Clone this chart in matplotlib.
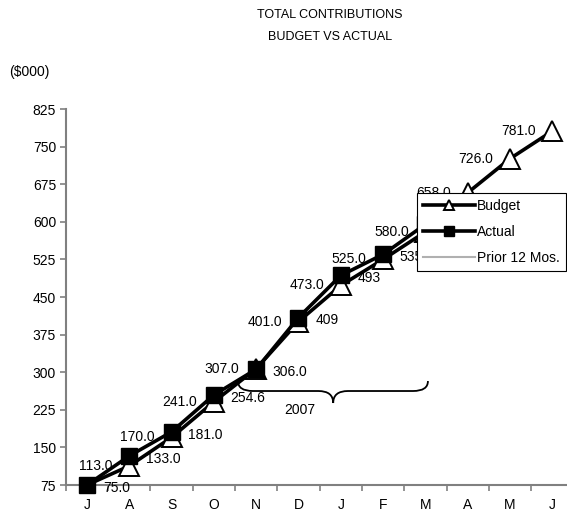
import numpy as np
import matplotlib.pyplot as plt
from matplotlib.path import Path
from matplotlib.patches import PathPatch

plt.rcParams['font.family'] = ['Liberation Sans', 'DejaVu Sans']

months = ['J', 'A', 'S', 'O', 'N', 'D', 'J', 'F', 'M', 'A', 'M', 'J']
budget = [75.0, 113.0, 170.0, 241.0, 307.0, 401.0, 473.0, 525.0, 580.0, 658.0, 726.0, 781.0]
budget_labels = ['', '113.0', '170.0', '241.0', '307.0', '401.0', '473.0', '525.0',
                 '580.0', '658.0', '726.0', '781.0']
actual = [75.0, 133.0, 181.0, 254.6, 306.0, 409.0, 493.0, 535.0, 595.0]
actual_labels = ['75.0', '133.0', '181.0', '254.6', '306.0', '409', '493', '535', '595']
prior = []
yticks = [75, 150, 225, 300, 375, 450, 525, 600, 675, 750, 825]

fig = plt.figure(figsize=(5.67, 5.14), dpi=100)
ax = fig.add_axes([0.1161, 0.0564, 0.8953, 0.7315])

x = np.arange(len(months))
ax.plot(x, budget, color='black', lw=2.6, marker='^', ms=14, mfc='white',
        mec='black', mew=1.4, label='Budget', clip_on=False, zorder=3,
        markevery=list(range(1, len(months))))
ax.plot(x[:len(actual)], actual, color='black', lw=2.6, marker='s', ms=12,
        mfc='black', mec='black', label='Actual', clip_on=False, zorder=4)
ax.plot(np.arange(len(prior)), prior, color='#b0b0b0', lw=1.5, label='Prior 12 Mos.')

fs = 10
for i, t in enumerate(budget_labels):
    if t:
        ax.annotate(t, (x[i], budget[i]), xytext=(-12, 0), textcoords='offset points',
                    ha='right', va='center', fontsize=fs, zorder=5)
for i, t in enumerate(actual_labels):
    ax.annotate(t, (x[i], actual[i]), xytext=(12, -2), textcoords='offset points',
                ha='left', va='center', fontsize=fs, zorder=5)

ax.set_xlim(-0.5, 11.5)
ax.set_ylim(75, 825)
ax.set_yticks(yticks)
ax.set_xticks(x)
ax.set_xticklabels(months)
ax.set_xticks(np.arange(-0.5, 12, 1), minor=True)
ax.tick_params(axis='x', which='major', length=0, pad=9, labelsize=fs)
ax.tick_params(axis='x', which='minor', length=4, color='#808080', width=1.2)
ax.tick_params(axis='y', length=4, color='#808080', width=1.2, pad=3, labelsize=fs)
for s in ['top', 'right']:
    ax.spines[s].set_visible(False)
for s in ['left', 'bottom']:
    ax.spines[s].set_color('#808080')
    ax.spines[s].set_linewidth(1.5)

# 2007 brace
x0, x1, xm = 3.57, 8.06, 5.82
yh, ye, yc = 262.5, 282.4, 238.6
verts = [(x0, ye), (x0, yh), (x0 + 0.35, yh), (xm - 0.35, yh), (xm, yh), (xm, yc),
         (xm, yh), (xm + 0.35, yh), (x1 - 0.35, yh), (x1, yh), (x1, ye)]
codes = [Path.MOVETO, Path.CURVE3, Path.CURVE3, Path.LINETO, Path.CURVE3, Path.CURVE3,
         Path.CURVE3, Path.CURVE3, Path.LINETO, Path.CURVE3, Path.CURVE3]
ax.add_patch(PathPatch(Path(verts, codes), fill=False, lw=1.3, color='black'))
ax.text(5.04, 224, '2007', ha='center', va='center', fontsize=fs)

leg = fig.legend(loc='upper left', bbox_to_anchor=(417 / 567, 1 - 193 / 514),
                 borderaxespad=0, frameon=True, fancybox=False, fontsize=fs,
                 handlelength=3.7, handletextpad=0.15, labelspacing=0.85,
                 borderpad=0.45, markerscale=0.55)
leg.get_frame().set_edgecolor('black')
leg.get_frame().set_linewidth(0.8)
leg.get_frame().set_alpha(1)
leg.set_zorder(10)

fig.text(330 / 567, 1 - 15 / 514, 'TOTAL CONTRIBUTIONS', ha='center', va='center', fontsize=9)
fig.text(330 / 567, 1 - 37 / 514, 'BUDGET VS ACTUAL', ha='center', va='center', fontsize=9)
fig.text(29 / 567, 1 - 72 / 514, '($000)', ha='center', va='center', fontsize=fs)

fig.savefig('out.png', dpi=100)
